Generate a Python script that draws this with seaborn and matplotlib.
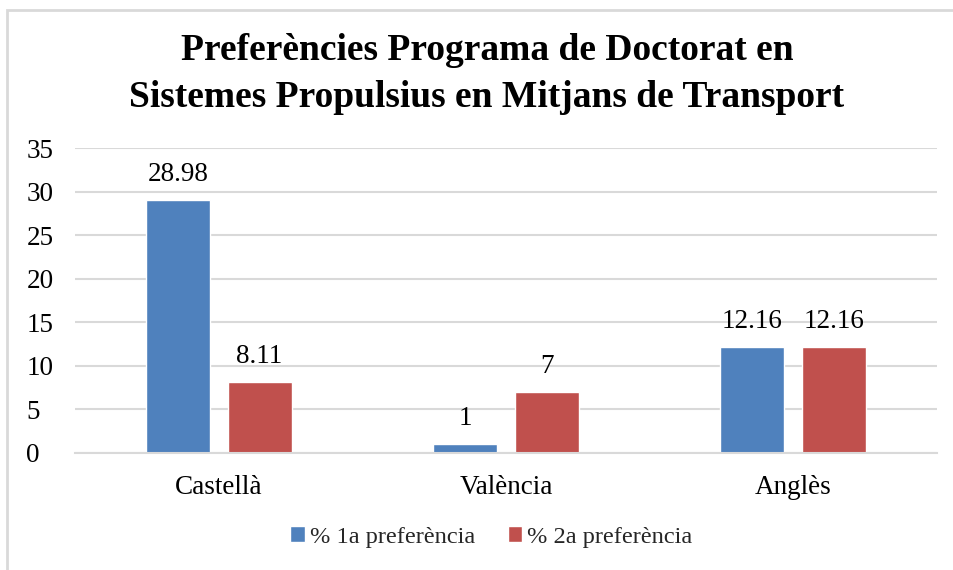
import matplotlib
matplotlib.use("Agg")
import matplotlib.pyplot as plt
import seaborn as sns
import pandas as pd
from matplotlib.patches import Rectangle

categories = ["Castellà", "València", "Anglès"]
series_names = ["% 1a preferència", "% 2a preferència"]
pref1 = [28.98, 1, 12.16]
pref2 = [8.11, 7, 12.16]
label1 = ["28.98", "1", "12.16"]
label2 = ["8.11", "7", "12.16"]
yticks = [0, 5, 10, 15, 20, 25, 30, 35]
title = "Preferències Programa de Doctorat en\nSistemes Propulsius en Mitjans de Transport"
colors = ["#4F81BD", "#C0504D"]

df = pd.DataFrame({
    "cat": categories * 2,
    "serie": [series_names[0]] * 3 + [series_names[1]] * 3,
    "val": pref1 + pref2,
})

sns.set_theme(style="white")
plt.rcParams["font.family"] = ["Liberation Serif", "DejaVu Serif"]

W, H = 954, 570
fig = plt.figure(figsize=(W / 100, H / 100), dpi=100)
ax = fig.add_axes([75 / W, 1 - 453 / H, (937 - 75) / W, (453 - 148) / H])

sns.barplot(data=df, x="cat", y="val", hue="serie", order=categories,
            hue_order=series_names, palette=colors, width=0.57, gap=0.22,
            saturation=1, ax=ax, legend=True)

for cont, labs in zip(ax.containers, [label1, label2]):
    ax.bar_label(cont, labels=labs, padding=9.5, fontsize=19.5, color="#000000")

ax.set_ylim(0, 35)
ax.set_xlim(-0.5, 2.5)
ax.set_yticks(yticks)
ax.set_yticklabels([str(t) for t in yticks])
ax.yaxis.grid(True, color="#D9D9D9", linewidth=1.5)
ax.set_axisbelow(True)
for s in ["top", "right", "left"]:
    ax.spines[s].set_visible(False)
ax.spines["bottom"].set_color("#D9D9D9")
ax.spines["bottom"].set_linewidth(1.5)
ax.tick_params(axis="both", length=0, labelsize=19.5, colors="#000000")
ax.tick_params(axis="x", pad=16)
ax.tick_params(axis="y", pad=35)
for lbl in ax.get_yticklabels():
    lbl.set_horizontalalignment("left")
ax.set_xlabel("")
ax.set_ylabel("")

handles, labels = ax.get_legend_handles_labels()
ax.legend_.remove()
fig.legend(handles, labels, loc="center", bbox_to_anchor=(491.5 / W, 1 - 537 / H),
           ncol=2, frameon=False, fontsize=17.6, handlelength=0.6, handleheight=0.6,
           handletextpad=0.2, columnspacing=1.33)

fig.text(487 / W, 1 - 74 / H, title, ha="center", va="center", fontsize=27,
         fontweight="bold", linespacing=1.45, color="#000000")

fig.patches.append(Rectangle((7.5 / W, -0.1), 1.2, 1 - 9.5 / H + 0.1,
                             transform=fig.transFigure, fill=False,
                             edgecolor="#D9D9D9", linewidth=2))

fig.savefig("out.png", dpi=100)
